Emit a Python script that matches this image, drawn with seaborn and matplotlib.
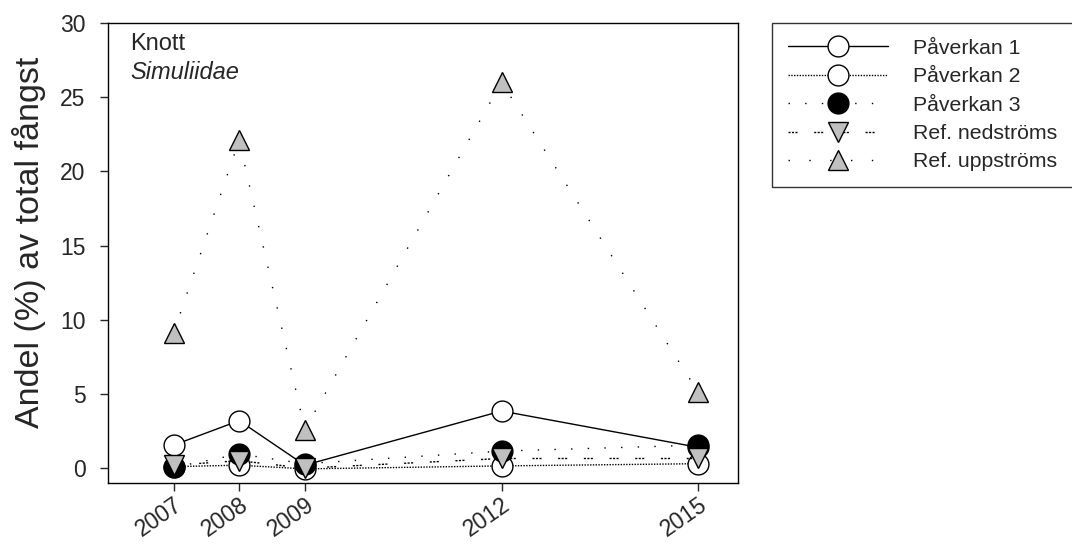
import matplotlib
matplotlib.use("Agg")
import matplotlib.pyplot as plt
import matplotlib.transforms as mtransforms
import pandas as pd
import seaborn as sns

years = [2007, 2008, 2009, 2012, 2015]
paverkan1 = [1.55, 3.2, 0.2, 3.85, 1.4]
paverkan2 = [0.1, 0.2, -0.05, 0.15, 0.3]
paverkan3 = [0.05, 0.95, 0.3, 1.15, 1.55]
ref_ned = [0.2, 0.5, 0.0, 0.65, 0.65]
ref_upp = [9.1, 22.1, 2.6, 26.0, 5.1]

series = [
    ("Påverkan 1", paverkan1, dict(marker="o", mfc="white", linestyle="-")),
    ("Påverkan 2", paverkan2, dict(marker="o", mfc="white", linestyle=(0, (1, 1)))),
    ("Påverkan 3", paverkan3, dict(marker="o", mfc="black", linestyle=(0, (1, 11)))),
    ("Ref. nedströms", ref_ned, dict(marker="v", mfc="#c0c0c0", linestyle=(0, (1.5, 1, 1.5, 1, 1.5, 12)))),
    ("Ref. uppströms", ref_upp, dict(marker="^", mfc="#c0c0c0", linestyle=(0, (1, 14)))),
]

sns.set_style("ticks")
plt.rcParams["font.family"] = ["Liberation Sans", "DejaVu Sans"]

fig = plt.figure(figsize=(10.72, 5.45), dpi=100)
ax = fig.add_axes([0.1007, 0.1138, 0.5875, 0.8440])

for name, vals, st in series:
    df = pd.DataFrame({"year": years, "value": vals})
    sns.lineplot(data=df, x="year", y="value", ax=ax, color="black", linewidth=1.0,
                 marker=st["marker"], markersize=15, markerfacecolor=st["mfc"],
                 markeredgecolor="black", markeredgewidth=1.0,
                 linestyle=st["linestyle"], label=name)

ax.set_xlim(2006.0, 2015.6)
ax.set_ylim(-1, 30)
ax.set_xticks(years)
ax.set_xticklabels([str(y) for y in years], rotation=35, ha="right",
                   rotation_mode="anchor", fontsize=16.5)
# nudge the rotated year labels a little to the right, like the original
shift = mtransforms.ScaledTranslation(0.08, 0, fig.dpi_scale_trans)
for lbl in ax.get_xticklabels():
    lbl.set_transform(lbl.get_transform() + shift)
ax.set_yticks([0, 5, 10, 15, 20, 25, 30])
ax.tick_params(axis="y", labelsize=16.5, length=6, width=1, direction="out", pad=10)
ax.tick_params(axis="x", length=6, width=1, direction="out", pad=1)
ax.set_xlabel("")
ax.set_ylabel("Andel (%) av total fångst", fontsize=24.5)
ax.yaxis.set_label_coords(-0.098, 0.524)
for s in ax.spines.values():
    s.set_visible(True)
    s.set_linewidth(1.0)
    s.set_color("black")

ax.text(0.035, 0.978, "Knott", transform=ax.transAxes, fontsize=17, va="top")
ax.text(0.035, 0.917, "Simuliidae", transform=ax.transAxes, fontsize=17, va="top",
        style="italic")

leg = ax.legend(loc="upper left", bbox_to_anchor=(1.054, 1.0), fontsize=15.3,
                handlelength=4.7, handletextpad=1.2, frameon=True, fancybox=False,
                edgecolor="black", borderpad=0.75, borderaxespad=0, labelspacing=0.44,
                numpoints=1)
leg.get_frame().set_linewidth(1.0)

fig.savefig("out.png", dpi=100)
